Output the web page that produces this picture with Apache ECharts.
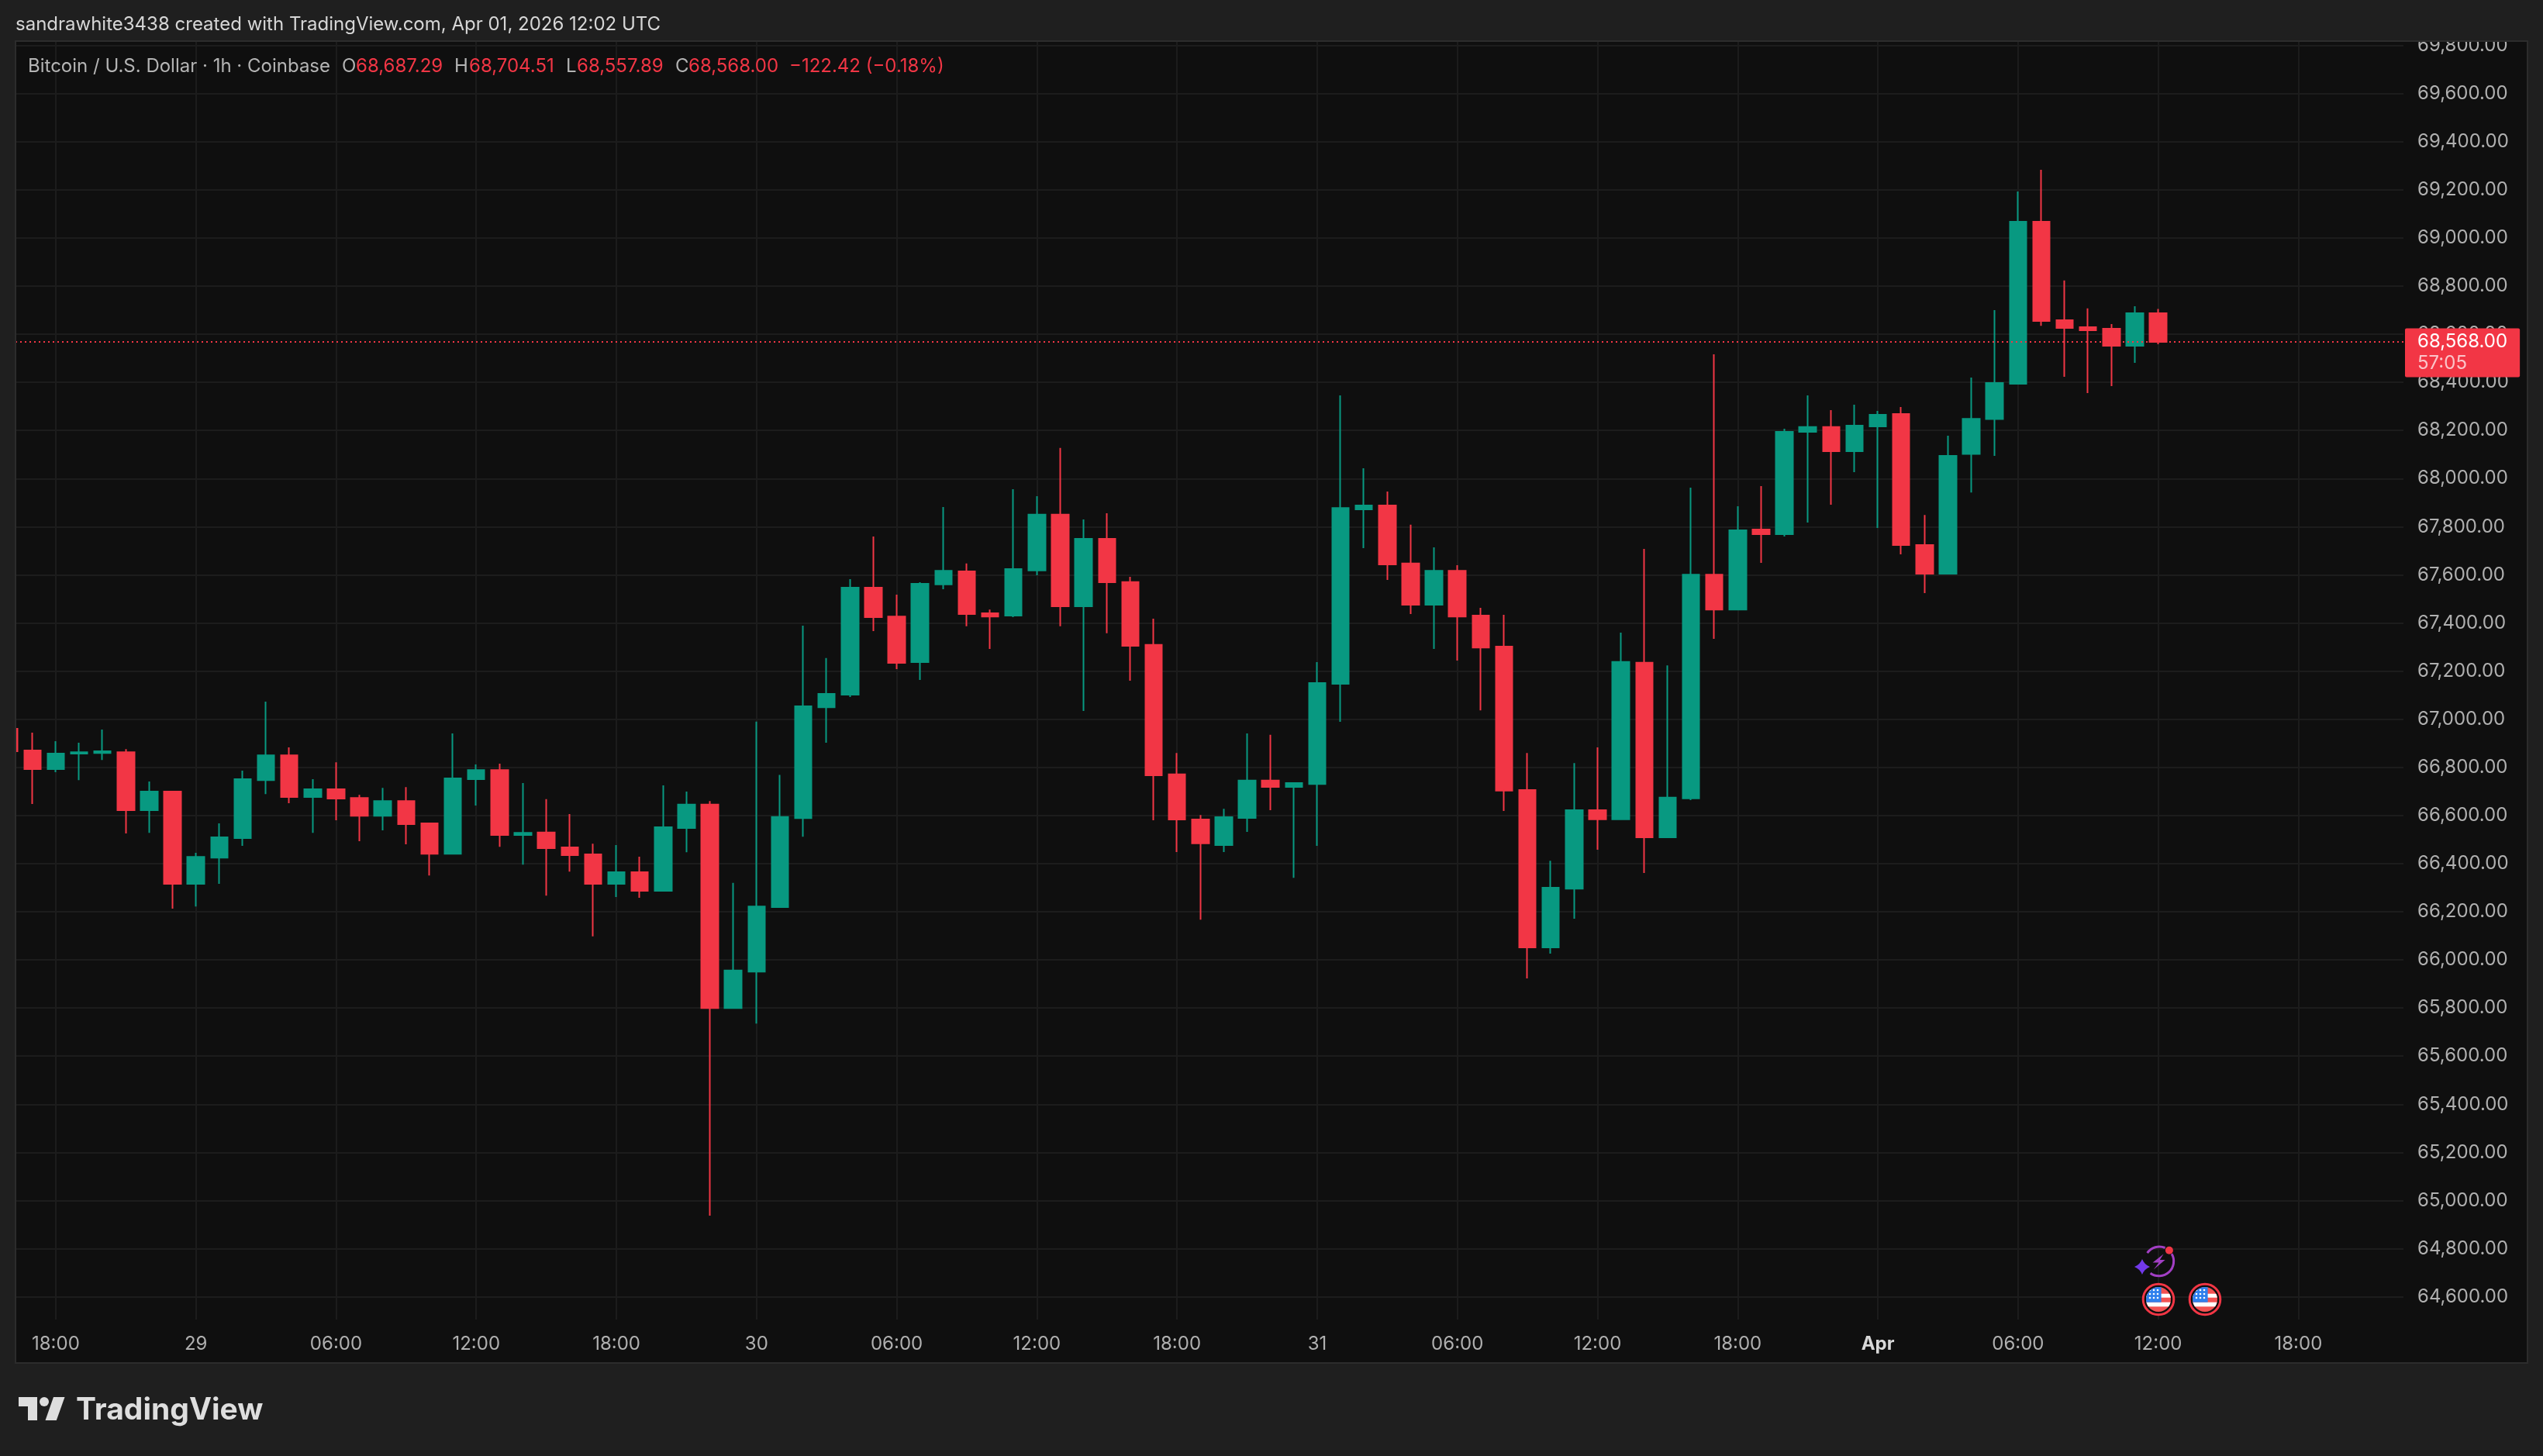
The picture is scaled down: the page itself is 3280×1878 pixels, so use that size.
<!DOCTYPE html>
<html>
<head>
<meta charset="utf-8">
<title>BTCUSD 1h</title>
<style>
html, body { margin: 0; padding: 0; background: #1f1f1f; }
#main { width: 3280px; height: 1878px; }
</style>
<script src="https://cdn.jsdelivr.net/npm/echarts@6/dist/echarts.min.js"></script>
</head>
<body>
<div id="main"></div>
<script>
// hours counted from Mar 28 18:00, one candle per hour
const hours = [-2,-1,0,1,2,3,4,5,6,7,8,9,10,11,12,13,14,15,16,17,18,19,20,21,22,23,24,25,26,27,28,29,30,31,32,33,34,35,36,37,38,39,40,41,42,43,44,45,46,47,48,49,50,51,52,53,54,55,56,57,58,59,60,61,62,63,64,65,66,67,68,69,70,71,72,73,74,75,76,77,78,79,80,81,82,83,84,85,86,87,88,89,90];
const opens = [66960,66870,66793,66857,66860,66863,66622,66699,66316,66425,66506,66747,66850,66677,66709,66673,66599,66660,66567,66441,66751,66789,66519,66529,66467,66438,66316,66364,66287,66548,66645,65800,65951,66219,66589,67050,67102,67547,67427,67237,67560,67614,67440,67431,67618,67850,67469,67750,67570,67309,66771,66583,66477,66590,66745,66719,66731,67147,67872,67888,67647,67476,67617,67431,67302,66706,66052,66296,66622,66584,67235,66509,66671,67601,67456,67788,67769,68194,68214,68114,68217,68268,67724,67605,68102,68247,68394,69067,68658,68629,68623,68552,68687.29];
const closes = [66867,66793,66857,66863,66867,66622,66699,66316,66428,66509,66751,66850,66677,66709,66670,66599,66660,66564,66441,66754,66789,66519,66528,66464,66435,66316,66364,66287,66551,66645,65800,65956,66222,66594,67054,67105,67547,67424,67234,67563,67617,67437,67427,67624,67850,67469,67750,67569,67305,66767,66583,66484,66593,66745,66719,66735,67150,67878,67888,67643,67476,67617,67427,67298,66703,66052,66300,66622,66584,67238,66509,66674,67601,67456,67785,67769,68194,68214,68114,68220,68265,67724,67605,68094,68248,68397,69067,68655,68626,68616,68552,68687,68568];
const lows = [66850,66648,66780,66747,66831,66525,66528,66213,66222,66316,66474,66689,66651,66528,66580,66493,66538,66480,66351,66441,66641,66470,66396,66267,66367,66098,66261,66258,66284,66447,64937,65797,65735,66219,66512,66902,67092,67366,67208,67163,67540,67386,67292,67424,67598,67386,67034,67357,67160,66580,66448,66167,66448,66532,66622,66341,66474,66989,67711,67579,67437,67292,67244,67037,66619,65923,66026,66171,66458,66584,66361,66509,66664,67334,67453,67650,67759,67817,67891,68027,67795,67685,67524,67605,67942,68094,68394,68635,68423,68355,68384,68481,68557.89];
const highs = [66970,66944,66909,66902,66957,66876,66741,66699,66445,66567,66786,67073,66883,66751,66821,66686,66715,66718,66567,66941,66812,66815,66735,66668,66606,66483,66477,66429,66725,66699,66660,66320,66990,66769,67389,67254,67582,67759,67518,67569,67882,67647,67456,67956,67927,68127,67830,67856,67592,67418,66860,66602,66628,66941,66935,66735,67237,68346,68043,67946,67808,67714,67640,67463,67434,66860,66412,66818,66883,67360,67708,67224,67962,68516,67885,67969,68207,68346,68284,68307,68281,68297,67849,68178,68420,68700,69193,69283,68823,68707,68642,68716,68704.51];

const timeTicks = [0,6,12,18,24,30,36,42,48,54,60,66,72,78,84,90,96];
const timeLabels = ['18:00','29','06:00','12:00','18:00','30','06:00','12:00','18:00','31','06:00','12:00','18:00','Apr','06:00','12:00','18:00'];
const priceTicks = [64600,64800,65000,65200,65400,65600,65800,66000,66200,66400,66600,66800,67000,67200,67400,67600,67800,68000,68200,68400,68600,68800,69000,69200,69400,69600,69800];

const lastPrice = 68568;
const lastPriceLabel = '68,568.00';
const countdownLabel = '57:05';

const RED = '#f23645';
const GREEN = '#089981';
const GRID_LINE = '#1c1c1c';
const FONT = 'Inter, sans-serif';

const candles = hours.map(function (h, i) {
  return [h, opens[i], closes[i], lows[i], highs[i]];
});

function svgUrl(svg) {
  return 'data:image/svg+xml;charset=utf-8,' + encodeURIComponent(svg);
}

// US flag event marker
const flagSvg = '<svg xmlns="http://www.w3.org/2000/svg" width="88" height="88" viewBox="0 0 44 44">' +
  '<defs><clipPath id="c"><circle cx="22" cy="22" r="16"/></clipPath></defs>' +
  '<circle cx="22" cy="22" r="19.8" fill="#0f0f0f" stroke="#f23645" stroke-width="3"/>' +
  '<g clip-path="url(#c)"><rect x="0" y="0" width="44" height="44" fill="#f25252"/>' +
  '<rect x="0" y="14.7" width="44" height="5" fill="#fff"/><rect x="0" y="25.7" width="44" height="5.6" fill="#fff"/>' +
  '<rect x="0" y="0" width="25.6" height="25.7" fill="#2f80ed"/>' +
  '<g fill="#fff"><circle cx="11" cy="10" r="1.3"/><circle cx="16" cy="10" r="1.3"/><circle cx="21" cy="10" r="1.3"/>' +
  '<circle cx="11" cy="15" r="1.3"/><circle cx="16" cy="15" r="1.3"/><circle cx="21" cy="15" r="1.3"/>' +
  '<circle cx="11" cy="20" r="1.3"/><circle cx="16" cy="20" r="1.3"/><circle cx="21" cy="20" r="1.3"/></g></g></svg>';

// lightning news marker
const boltSvg = '<svg xmlns="http://www.w3.org/2000/svg" width="120" height="120" viewBox="0 0 60 60">' +
  '<g transform="translate(32.6 29.7)">' +
  '<path d="M -15 -10.5 A 19 19 0 0 1 8 -17.2 M 16.5 -9.5 A 19 19 0 0 1 -11 15.5" fill="none" stroke="#a23fc4" stroke-width="3"/>' +
  '<polygon points="6,-9.3 -8,1.7 0,1.7 -6.8,10.7 8,-1.7 1.2,-1.7" fill="#a23fc4"/></g>' +
  '<circle cx="45.9" cy="15.7" r="5" fill="#f23645"/>' +
  '<path d="M 11 27 Q 13.8 34.2 21 37 Q 13.8 39.8 11 47 Q 8.2 39.8 1 37 Q 8.2 34.2 11 27 Z" fill="#7239ea"/></svg>';

function legendText(text, x, fill) {
  return {
    type: 'text', z: 100,
    style: { text: text, x: x, y: 86, fill: fill, font: '24px ' + FONT, textVerticalAlign: 'middle' }
  };
}

const myChart = echarts.init(document.getElementById('main'));
const option = {
  animation: false,
  backgroundColor: '#1f1f1f',
  textStyle: { fontFamily: FONT },
  grid: { left: 20, right: 180, top: 53, bottom: 176 },
  xAxis: {
    type: 'value',
    min: -1.7225,
    max: 100.5,
    axisLine: { show: false },
    axisTick: { show: false, customValues: timeTicks },
    splitLine: { show: true, lineStyle: { color: GRID_LINE, width: 2 } },
    axisLabel: {
      customValues: timeTicks,
      margin: 20,
      fontSize: 24,
      color: '#b0b0b0',
      formatter: function (v) {
        const s = timeLabels[timeTicks.indexOf(v)];
        return s === 'Apr' ? '{b|Apr}' : s;
      },
      rich: { b: { fontSize: 24, fontWeight: 700, color: '#d8d8d8', fontFamily: FONT } }
    }
  },
  yAxis: {
    type: 'value',
    position: 'right',
    scale: true,
    min: 64505.4,
    max: 69817.9,
    axisLine: { show: false },
    axisTick: { show: false, customValues: priceTicks },
    splitLine: { show: true, lineStyle: { color: GRID_LINE, width: 2 } },
    axisLabel: {
      customValues: priceTicks,
      margin: 18,
      fontSize: 24,
      color: '#b0b0b0',
      formatter: function (v) {
        return v.toLocaleString('en-US', { minimumFractionDigits: 2, maximumFractionDigits: 2 });
      }
    }
  },
  series: [
    {
      type: 'candlestick',
      data: candles,
      encode: { x: 0, y: [1, 2, 3, 4] },
      barWidth: 22,
      itemStyle: { color: GREEN, color0: RED, borderColor: GREEN, borderColor0: RED, borderWidth: 2 },
      markLine: {
        silent: true,
        symbol: 'none',
        animation: false,
        lineStyle: { color: RED, type: [2, 4], width: 2 },
        data: [{ yAxis: lastPrice }],
        label: {
          position: 'end',
          distance: 2,
          align: 'left',
          offset: [0, 14],
          backgroundColor: RED,
          borderRadius: 2,
          padding: [3, 16, 4, 16],
          formatter: '{a|' + lastPriceLabel + '}\n{b|' + countdownLabel + '}',
          rich: {
            a: { color: '#ffffff', fontSize: 24, lineHeight: 28, fontFamily: FONT },
            b: { color: '#fbc4c9', fontSize: 24, lineHeight: 28, fontFamily: FONT }
          }
        }
      }
    }
  ],
  graphic: {
    elements: [
      { type: 'rect', z: -1, shape: { x: 20, y: 53, width: 3240, height: 1705 }, style: { fill: '#0f0f0f' } },
      // candlestick clip only drops whole boxes, so cover the cut candle at the left edge
      { type: 'rect', z: 90, shape: { x: 0, y: 53, width: 20, height: 1705 }, style: { fill: '#1f1f1f' } },
      // keeps the top price label cut off at the frame, like the original
      { type: 'rect', z: 90, shape: { x: 3100, y: 0, width: 180, height: 53 }, style: { fill: '#1f1f1f' } },
      { type: 'rect', z: 91, shape: { x: 20, y: 53, width: 3240, height: 1705 }, style: { fill: 'none', stroke: '#2c2c2c', lineWidth: 2 } },
      {
        type: 'text', z: 100,
        style: { text: 'sandrawhite3438 created with TradingView.com, Apr 01, 2026 12:02 UTC', x: 20, y: 32, fill: '#d6d6d6', font: '24px ' + FONT, textVerticalAlign: 'middle' }
      },
      legendText('Bitcoin / U.S. Dollar · 1h · Coinbase', 36, '#b4b4b4'),
      legendText('O', 441, '#b4b4b4'),
      legendText('68,687.29', 459, RED),
      legendText('H', 586, '#b4b4b4'),
      legendText('68,704.51', 605, RED),
      legendText('L', 730, '#b4b4b4'),
      legendText('68,557.89', 744, RED),
      legendText('C', 871, '#b4b4b4'),
      legendText('68,568.00', 888, RED),
      legendText('−122.42 (−0.18%)', 1018, RED),
      { type: 'image', z: 95, style: { image: svgUrl(boltSvg), x: 2752, y: 1597, width: 60, height: 60 } },
      { type: 'image', z: 95, style: { image: svgUrl(flagSvg), x: 2762, y: 1654, width: 44, height: 44 } },
      { type: 'image', z: 95, style: { image: svgUrl(flagSvg), x: 2822, y: 1654, width: 44, height: 44 } },
      // TradingView logo mark and word
      { type: 'polygon', z: 100, shape: { points: [[24, 1802], [48, 1802], [48, 1832], [36, 1832], [36, 1814], [24, 1814]] }, style: { fill: '#dedede' } },
      { type: 'circle', z: 100, shape: { cx: 57, cy: 1808, r: 6 }, style: { fill: '#dedede' } },
      { type: 'polygon', z: 100, shape: { points: [[69, 1802], [83.5, 1802], [72.8, 1832], [58.5, 1832]] }, style: { fill: '#dedede' } },
      {
        type: 'text', z: 100,
        style: { text: 'TradingView', x: 98, y: 1819, fill: '#dedede', font: '700 39px ' + FONT, textVerticalAlign: 'middle' }
      }
    ]
  }
};
myChart.setOption(option);
window.onresize = myChart.resize;
</script>
</body>
</html>
